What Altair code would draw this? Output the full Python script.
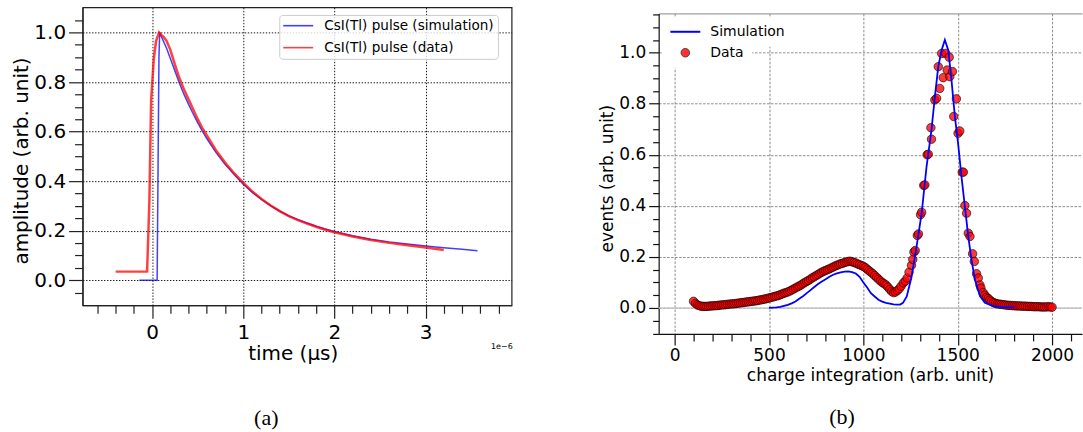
import altair as alt
import pandas as pd

# ---------------- panel (a): CsI(Tl) pulse shapes ----------------
sim_t = [-0.14, 0.00, 0.055, 0.065, 0.075, 0.083, 0.10, 0.13, 0.16, 0.20, 0.25, 0.30, 0.35, 0.40,
         0.45, 0.50, 0.55, 0.60, 0.70, 0.80, 0.90, 1.00, 1.10, 1.20, 1.30, 1.40, 1.50, 1.60,
         1.70, 1.80, 1.90, 2.00, 2.20, 2.40, 2.60, 2.80, 3.00, 3.20, 3.40, 3.57]
sim_a = [0.0, 0.0, 0.0, 0.45, 0.90, 1.0, 0.985, 0.96, 0.935, 0.895, 0.845, 0.795, 0.75, 0.71,
         0.672, 0.636, 0.603, 0.572, 0.516, 0.468, 0.427, 0.388, 0.355, 0.326, 0.301, 0.279, 0.260, 0.245,
         0.231, 0.218, 0.207, 0.197, 0.180, 0.166, 0.155, 0.146, 0.138, 0.131, 0.125, 0.119]

dat_t = [-0.40, -0.30, -0.20, -0.10, -0.055, -0.03, -0.011, 0.018, 0.044, 0.077, 0.10, 0.13, 0.16,
         0.20, 0.25, 0.30, 0.35, 0.40, 0.45, 0.50, 0.55, 0.60, 0.70, 0.80, 0.90, 1.00, 1.10, 1.20,
         1.30, 1.40, 1.50, 1.60, 1.70, 1.80, 1.90, 2.00, 2.20, 2.40, 2.60, 2.80, 3.00, 3.20]
dat_a = [0.035, 0.035, 0.035, 0.035, 0.035, 0.32, 0.725, 0.893, 0.966, 1.0, 0.99, 0.98, 0.965,
         0.93, 0.87, 0.815, 0.77, 0.73, 0.69, 0.65, 0.615, 0.585, 0.525, 0.475, 0.432, 0.393, 0.358, 0.328,
         0.302, 0.279, 0.259, 0.243, 0.229, 0.216, 0.204, 0.194, 0.177, 0.163, 0.151, 0.141, 0.132, 0.122]

xa_major = [0, 1, 2, 3]
xa_minor = [-0.6, -0.4, -0.2, 0.2, 0.4, 0.6, 0.8, 1.2, 1.4, 1.6, 1.8, 2.2, 2.4, 2.6, 2.8, 3.2, 3.4, 3.6, 3.8]
ya_major = [0.0, 0.2, 0.4, 0.6, 0.8, 1.0]
ya_minor = [-0.05, 0.05, 0.1, 0.15, 0.25, 0.3, 0.35, 0.45, 0.5, 0.55, 0.65, 0.7, 0.75, 0.85, 0.9, 0.95, 1.05]

# ---------------- panel (b): charge spectrum ----------------
sim_q = [500, 520, 540, 560, 580, 600, 620, 640, 660, 680, 700, 720, 740, 760, 780, 800, 820, 840,
         860, 880, 900, 920, 940, 960, 980, 1000, 1020, 1040, 1060, 1080, 1100, 1120, 1140, 1160,
         1180, 1195, 1210, 1230, 1255, 1282, 1309, 1335, 1361, 1379, 1397, 1415, 1432, 1450, 1467,
         1485, 1502, 1520, 1538, 1556, 1573, 1591, 1618, 1644, 1688, 1740, 1800]
sim_e = [0.0, 0.001, 0.002, 0.004, 0.008, 0.012, 0.018, 0.025, 0.036, 0.046, 0.058, 0.070, 0.082,
         0.094, 0.104, 0.112, 0.122, 0.130, 0.135, 0.139, 0.142, 0.143, 0.140, 0.135, 0.122, 0.100,
         0.080, 0.058, 0.045, 0.032, 0.025, 0.020, 0.017, 0.014, 0.013, 0.013, 0.020, 0.045, 0.12,
         0.24, 0.371, 0.554, 0.697, 0.827, 0.945, 1.01, 1.05, 1.01, 0.893, 0.75, 0.645, 0.515, 0.397,
         0.28, 0.189, 0.111, 0.046, 0.020, 0.007, 0.003, 0.002]

pts_q = [100, 110, 120, 130, 140, 150, 160, 170, 180, 190, 200, 210, 220, 230, 240, 250, 260, 270,
         280, 290, 300, 310, 320, 330, 340, 350, 360, 370, 380, 390, 400, 410, 420, 430, 440, 450,
         460, 470, 480, 490, 500, 510, 520, 530, 540, 550, 560, 570, 580, 590, 600, 610, 620, 630,
         640, 650, 660, 670, 680, 690, 700, 710, 720, 730, 740, 750, 760, 770, 780, 790, 800, 810,
         820, 830, 840, 850, 860, 870, 880, 890, 900, 910, 920, 930, 940, 950, 960, 970, 980, 990,
         1000, 1010, 1020, 1030, 1040, 1050, 1060, 1070, 1080, 1090, 1100, 1110, 1120, 1130, 1140,
         1150, 1160, 1170, 1180, 1190, 1200, 1212, 1222, 1232, 1242, 1255, 1262, 1268, 1275, 1286,
         1292, 1303, 1309, 1320, 1326, 1338, 1344, 1358, 1361, 1379, 1388, 1397, 1405, 1415, 1423,
         1437, 1444, 1455, 1458, 1472, 1479, 1493, 1502, 1511, 1524, 1530, 1538, 1547, 1556, 1565,
         1579, 1588, 1600, 1609, 1618, 1623, 1635, 1644, 1653, 1662, 1670, 1679, 1690, 1700, 1710,
         1720, 1730, 1740, 1750, 1760, 1770, 1780, 1790, 1800, 1810, 1820, 1830, 1840, 1850, 1860,
         1870, 1880, 1890, 1900, 1910, 1920, 1930, 1940, 1950, 1960, 1970, 1980, 1990, 2000]
pts_e = [0.026, 0.018, 0.012, 0.009, 0.007, 0.006, 0.006, 0.006, 0.007, 0.008, 0.008, 0.009, 0.009,
         0.010, 0.011, 0.012, 0.012, 0.013, 0.014, 0.015, 0.016, 0.016, 0.017, 0.018, 0.019, 0.020,
         0.021, 0.022, 0.023, 0.024, 0.025, 0.026, 0.027, 0.028, 0.029, 0.031, 0.032, 0.034, 0.035,
         0.037, 0.039, 0.041, 0.043, 0.045, 0.047, 0.049, 0.052, 0.055, 0.058, 0.060, 0.063, 0.066,
         0.070, 0.074, 0.078, 0.082, 0.086, 0.090, 0.095, 0.100, 0.104, 0.108, 0.113, 0.118, 0.122,
         0.127, 0.131, 0.136, 0.140, 0.144, 0.147, 0.150, 0.153, 0.157, 0.160, 0.164, 0.167, 0.170,
         0.173, 0.175, 0.178, 0.180, 0.182, 0.183, 0.181, 0.178, 0.176, 0.172, 0.169, 0.166, 0.163,
         0.158, 0.152, 0.146, 0.140, 0.134, 0.127, 0.120, 0.113, 0.106, 0.100, 0.095, 0.090, 0.082,
         0.073, 0.065, 0.060, 0.062, 0.068, 0.075, 0.085, 0.098, 0.105, 0.117, 0.140, 0.167, 0.190,
         0.219, 0.225, 0.284, 0.290, 0.365, 0.375, 0.480, 0.482, 0.600, 0.602, 0.706, 0.661, 0.815,
         0.821, 0.945, 0.860, 0.997, 0.902, 0.997, 0.932, 0.982, 0.906, 0.926, 0.750, 0.819, 0.684,
         0.693, 0.532, 0.532, 0.401, 0.371, 0.293, 0.280, 0.212, 0.182, 0.134, 0.117, 0.090, 0.078,
         0.060, 0.050, 0.042, 0.037, 0.031, 0.026, 0.021, 0.018, 0.016, 0.015, 0.014, 0.013, 0.012,
         0.011, 0.010, 0.010, 0.009, 0.009, 0.008, 0.008, 0.008, 0.007, 0.007, 0.007, 0.006, 0.006,
         0.006, 0.005, 0.005, 0.005, 0.005, 0.004, 0.004, 0.004, 0.004, 0.005, 0.004, 0.003]

xb_major = [0, 500, 1000, 1500, 2000]
xb_minor = [100, 200, 300, 400, 600, 700, 800, 900, 1100, 1200, 1300, 1400, 1600, 1700, 1800, 1900, 2100]
yb_major = [0.0, 0.2, 0.4, 0.6, 0.8, 1.0]
yb_minor = [-0.1, -0.05, 0.05, 0.1, 0.15, 0.25, 0.3, 0.35, 0.45, 0.5, 0.55, 0.65, 0.7, 0.75,
            0.85, 0.9, 0.95, 1.05, 1.1, 1.15]

FONT = "DejaVu Sans"
SIM_A = "CsI(Tl) pulse (simulation)"
DAT_A = "CsI(Tl) pulse (data)"

df_sim_a = pd.DataFrame({"t": sim_t, "a": sim_a, "s": SIM_A})
df_dat_a = pd.DataFrame({"t": dat_t, "a": dat_a, "s": DAT_A})
df_sim_b = pd.DataFrame({"q": sim_q, "e": sim_e, "s": "Simulation"})
df_pts_b = pd.DataFrame({"q": pts_q, "e": pts_e, "s": "Data"})

# ---------------- panel (a) ----------------
WA, HA = 429.7, 298.3
XA = alt.Scale(domain=[-0.763, 3.944], nice=False, zero=False)
YA = alt.Scale(domain=[-0.1007, 1.101], nice=False, zero=False)
COL_A = alt.Scale(domain=[SIM_A, DAT_A], range=["#0000ff", "#ff0000"])

grid_a = dict(grid=True, gridColor="#000000", gridDash=[1.4, 1.6], gridWidth=0.9)
xa_axis = alt.Axis(orient="bottom", values=xa_major, format="d", tickSize=13, tickWidth=1.2,
                   tickColor="#222", domainColor="#222", domainWidth=1.2, labelFontSize=20,
                   labelPadding=4, title="time (μs)", titleFontSize=20, titleX=210.5, titleY=48,
                   titleBaseline="middle", titleAlign="center", **grid_a)
ya_axis = alt.Axis(orient="left", values=ya_major, format=".1f", tickSize=14, tickWidth=1.2,
                   tickColor="#222", domainColor="#222", domainWidth=1.2, labelFontSize=20,
                   labelPadding=3, title="amplitude (arb. unit)", titleFontSize=20, titleX=-61.3,
                   titleY=153.3, titleAngle=270, titleBaseline="middle", titleAlign="center", **grid_a)
xa_minor_axis = alt.Axis(orient="bottom", values=xa_minor, tickSize=8, tickWidth=1.2, tickColor="#222",
                         labels=False, domain=False, grid=False, title=None)
ya_minor_axis = alt.Axis(orient="left", values=ya_minor, tickSize=8, tickWidth=1.2, tickColor="#222",
                         labels=False, domain=False, grid=False, title=None)

leg_a = alt.Legend(orient="none", legendX=197, legendY=7.5, title=None, symbolType="M-3,0H3",
                   symbolSize=100, symbolStrokeWidth=1.6, symbolOpacity=0.75, labelFontSize=13.6,
                   labelFont=FONT, labelLimit=0, symbolOffset=8.2, labelOffset=19.2, padding=4,
                   rowPadding=7, fillColor="rgba(255,255,255,0.8)", strokeColor="#cccccc",
                   cornerRadius=3)

blue_a = alt.Chart(df_sim_a).mark_line(strokeWidth=1.5, opacity=0.75).encode(
    x=alt.X("t:Q", scale=XA, axis=xa_axis),
    y=alt.Y("a:Q", scale=YA, axis=ya_axis),
    color=alt.Color("s:N", scale=COL_A, legend=leg_a),
)
red_a = alt.Chart(df_dat_a).mark_line(strokeWidth=2.5, opacity=0.75).encode(
    x=alt.X("t:Q", scale=XA, axis=None),
    y=alt.Y("a:Q", scale=YA, axis=None),
    color=alt.Color("s:N", scale=COL_A, legend=leg_a),
)
minor_a = alt.Chart(df_dat_a).mark_point(opacity=0, size=1).encode(
    x=alt.X("t:Q", scale=XA, axis=xa_minor_axis),
    y=alt.Y("a:Q", scale=YA, axis=ya_minor_axis),
)
expo_a = alt.Chart(pd.DataFrame({"txt": ["1e\u22126"]})).mark_text(
    fontSize=8, font=FONT, color="black", align="center", baseline="middle"
).encode(text="txt:N", x=alt.value(420), y=alt.value(340.3))
cap_a = alt.Chart(pd.DataFrame({"txt": ["(a)"]})).mark_text(
    fontSize=22, font="Liberation Serif", color="black", align="center", baseline="middle"
).encode(text="txt:N", x=alt.value(184), y=alt.value(411.3))

left = alt.layer(blue_a, red_a, minor_a, expo_a, cap_a).resolve_axis(
    x="independent", y="independent"
).properties(width=WA, height=HA, view=alt.ViewBackground(stroke="#222", strokeWidth=1.2))

# ---------------- panel (b) ----------------
WB, HB = 424.0, 321.0
XB = alt.Scale(domain=[-84.7, 2158.7], nice=False, zero=False)
YB = alt.Scale(domain=[-0.1017, 1.1537], nice=False, zero=False)

grid_b = dict(grid=True, gridColor="#707070", gridDash=[2.5, 1.5], gridWidth=0.8)
xb_axis = alt.Axis(orient="bottom", values=xb_major, format="d", tickSize=11, tickWidth=1.2,
                   tickColor="#111", domainColor="#111", domainWidth=1.2, labelFontSize=17,
                   labelPadding=3, title="charge integration (arb. unit)", titleFontSize=17,
                   titleX=211.7, titleY=41.7, titleBaseline="middle", titleAlign="center", **grid_b)
yb_axis = alt.Axis(orient="left", values=yb_major, format=".1f", tickSize=10, tickWidth=1.2,
                   tickColor="#111", domainColor="#111", domainWidth=1.2, labelFontSize=17,
                   labelPadding=3, title="events (arb. unit)", titleFontSize=17, titleX=-51.6,
                   titleY=165, titleAngle=270, titleBaseline="middle", titleAlign="center", **grid_b)
xb_minor_axis = alt.Axis(orient="bottom", values=xb_minor, tickSize=7, tickWidth=1.2, tickColor="#111",
                         labels=False, domain=False, grid=False, title=None)
yb_minor_axis = alt.Axis(orient="left", values=yb_minor, tickSize=6, tickWidth=1.2, tickColor="#111",
                         labels=False, domain=False, grid=False, title=None)
xb_top_axis = alt.Axis(orient="top", domain=True, domainColor="#888888", domainWidth=1, ticks=False,
                       labels=False, grid=False, title=None)

leg_sim = alt.Legend(orient="none", legendX=3.7, legendY=3.4, title=None, symbolType="M-3,0H3",
                     symbolSize=100, symbolStrokeWidth=2, symbolOpacity=1, labelFontSize=14,
                     labelFont=FONT, labelLimit=0, symbolOffset=8, labelOffset=18, padding=8,
                     fillColor="white")
leg_dat = alt.Legend(orient="none", legendX=3.7, legendY=24.4, title=None, symbolType="circle",
                     symbolSize=72, symbolStrokeColor="#3a0000", symbolStrokeWidth=1,
                     symbolOpacity=0.8, labelFontSize=14, labelFont=FONT, labelLimit=0,
                     symbolOffset=8, labelOffset=18, padding=8, fillColor="white",
                     labelExpr="datum.label + '\u2003\u2003\u2003'")

zero_b = alt.Chart(pd.DataFrame({"e": [0.0]})).mark_rule(color="#c8c8c8", strokeWidth=1.6).encode(
    y=alt.Y("e:Q", scale=YB, axis=None)
)
pts_b = alt.Chart(df_pts_b).mark_circle(size=72, stroke="#000000", strokeWidth=1, strokeOpacity=0.6,
                                        fillOpacity=0.78).encode(
    x=alt.X("q:Q", scale=XB, axis=xb_axis),
    y=alt.Y("e:Q", scale=YB, axis=yb_axis),
    fill=alt.Fill("s:N", scale=alt.Scale(domain=["Data"], range=["#ff0000"]), legend=leg_dat),
)
line_b = alt.Chart(df_sim_b).mark_line(strokeWidth=1.8).encode(
    x=alt.X("q:Q", scale=XB, axis=None),
    y=alt.Y("e:Q", scale=YB, axis=None),
    stroke=alt.Stroke("s:N", scale=alt.Scale(domain=["Simulation"], range=["#0000ff"]), legend=leg_sim),
)
minor_b = alt.Chart(df_pts_b).mark_point(opacity=0, size=1).encode(
    x=alt.X("q:Q", scale=XB, axis=xb_minor_axis),
    y=alt.Y("e:Q", scale=YB, axis=yb_minor_axis),
)
top_b = alt.Chart(df_pts_b).mark_point(opacity=0, size=1).encode(
    x=alt.X("q:Q", scale=XB, axis=xb_top_axis),
    y=alt.Y("e:Q", scale=YB, axis=None),
)
cap_b = alt.Chart(pd.DataFrame({"txt": ["(b)"]})).mark_text(
    fontSize=22, font="Liberation Serif", color="black", align="center", baseline="middle"
).encode(text="txt:N", x=alt.value(183.7), y=alt.value(404.7))

right = alt.layer(zero_b, pts_b, line_b, minor_b, top_b, cap_b).resolve_axis(
    x="independent", y="independent"
).resolve_scale(fill="independent", stroke="independent").properties(
    width=WB, height=HB, view=alt.ViewBackground(stroke=None)
)

spacer = alt.Chart(pd.DataFrame({"v": [0]})).mark_rect(color="white").encode(
    x=alt.value(0), x2=alt.value(1), y=alt.value(0), y2=alt.value(1)
).properties(width=1, height=1, view=alt.ViewBackground(stroke=None))

right_col = alt.vconcat(spacer, right, spacing=5)

chart = alt.hconcat(left, right_col, spacing=84).properties(
    padding={"left": 10.7, "top": 6.1, "right": 0, "bottom": 0}
).configure(font=FONT).configure_axis(
    labelColor="black", titleColor="black", labelFont=FONT, titleFont=FONT, titleFontWeight="normal"
).configure_legend(labelColor="black")

chart.save("out.html", embed_options={"renderer": "svg", "actions": False})
